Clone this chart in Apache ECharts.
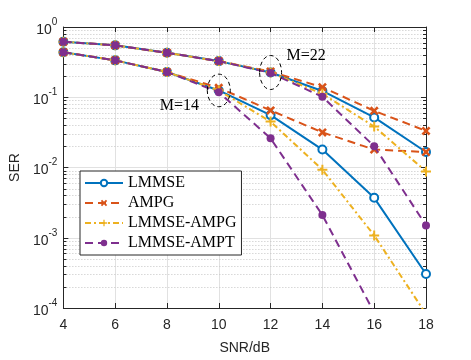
<!DOCTYPE html>
<html><head><meta charset="utf-8">
<script src="https://cdn.jsdelivr.net/npm/echarts@6/dist/echarts.min.js"></script>
<style>html,body{margin:0;padding:0;background:#fff}#c{width:471px;height:360px}</style>
</head><body><div id="c"></div>
<script>
const snr = [4, 6, 8, 10, 12, 14, 16, 18];
const xTicks = [4, 6, 8, 10, 12, 14, 16, 18];
const methodNames = ['LMMSE', 'AMPG', 'LMMSE-AMPG', 'LMMSE-AMPT'];
const lmmse_M14 = [0.437, 0.335, 0.229, 0.125, 0.0557, 0.018, 0.0037, 0.000305];
const lmmse_M22 = [0.617, 0.548, 0.429, 0.327, 0.225, 0.123, 0.0516, 0.0166];
const ampg_M14 = [0.437, 0.335, 0.229, 0.136, 0.065, 0.0316, 0.018, 0.0166];
const ampg_M22 = [0.617, 0.548, 0.429, 0.327, 0.232, 0.139, 0.064, 0.0332];
const lmmseAmpg_M14 = [0.437, 0.335, 0.229, 0.125, 0.045, 0.0093, 0.00108, 0.000082];
const lmmseAmpg_M22 = [0.617, 0.548, 0.429, 0.327, 0.225, 0.112, 0.0383, 0.0088];
const lmmseAmpt_M14 = [0.437, 0.335, 0.229, 0.118, 0.026, 0.0021, 0.000086, null];
const lmmseAmpt_M22 = [0.617, 0.548, 0.429, 0.327, 0.222, 0.1016, 0.0201, 0.0015];
const decadeExponents = [-4, -3, -2, -1];
const minorMultipliers = [2, 3, 4, 5, 6, 7, 8, 9];
const annotations = [
  { label: 'M=22', x: 12, y: 0.225 },
  { label: 'M=14', x: 10, y: 0.125 }
];

const colors = ['#0072BD', '#D95319', '#EDB120', '#7E2F8E'];
const X_PATH = 'path://M0,2 L2,0 L5,3 L8,0 L10,2 L7,5 L10,8 L8,10 L5,7 L2,10 L0,8 L3,5 Z';
const PLUS_PATH = 'path://M4,0 H6 V4 H10 V6 H6 V10 H4 V6 H0 V4 H4 Z';

const minorValues = [];
decadeExponents.forEach(e => minorMultipliers.forEach(m => minorValues.push([snr[0], m * Math.pow(10, e)])));

function pairs(arr) { return snr.map((x, i) => [x, arr[i]]); }

const styles = [
  { lineStyle: { color: colors[0], width: 2, type: 'solid' }, symbol: 'emptyCircle', symbolSize: 8, itemStyle: { color: colors[0], borderColor: colors[0], borderWidth: 2 } },
  { lineStyle: { color: colors[1], width: 2, type: [8, 5] }, symbol: X_PATH, symbolSize: 9, itemStyle: { color: colors[1] } },
  { lineStyle: { color: colors[2], width: 2, type: [6, 3, 2, 3] }, symbol: PLUS_PATH, symbolSize: 10, itemStyle: { color: colors[2] } },
  { lineStyle: { color: colors[3], width: 2, type: [8, 5] }, symbol: 'circle', symbolSize: 8, itemStyle: { color: colors[3] } }
];
const dataSets = [[lmmse_M14, lmmse_M22], [ampg_M14, ampg_M22], [lmmseAmpg_M14, lmmseAmpg_M22], [lmmseAmpt_M14, lmmseAmpt_M22]];

const series = [{
  type: 'custom',
  name: 'minor',
  silent: true,
  z: 0,
  data: minorValues,
  encode: { x: 0, y: 1 },
  renderItem: function (params, api) {
    const cs = params.coordSys;
    const p = api.coord([api.value(0), api.value(1)]);
    const y = Math.round(p[1]) + 0.5;
    return {
      type: 'group',
      children: [
        { type: 'line', shape: { x1: cs.x, y1: y, x2: cs.x + cs.width, y2: y }, style: { stroke: '#c4c4c4', lineWidth: 1, lineDash: [1, 2] } },
        { type: 'line', shape: { x1: cs.x, y1: y, x2: cs.x + 3, y2: y }, style: { stroke: '#262626', lineWidth: 1 } },
        { type: 'line', shape: { x1: cs.x + cs.width - 3, y1: y, x2: cs.x + cs.width, y2: y }, style: { stroke: '#262626', lineWidth: 1 } }
      ]
    };
  }
}];
methodNames.forEach((name, i) => {
  dataSets[i].forEach(arr => {
    series.push(Object.assign({
      type: 'line', name: name, data: pairs(arr), z: 3 + i, clip: true, animation: false,
      showAllSymbol: true, connectNulls: false
    }, styles[i]));
  });
});

const axisLine = { show: true, lineStyle: { color: '#262626', width: 1 } };
const option = {
  animation: false,
  backgroundColor: '#fff',
  grid: { left: 61, right: 45, top: 27, bottom: 47, containLabel: false },
  legend: {
    data: methodNames, orient: 'vertical', left: 80, top: 171,
    backgroundColor: '#fff', borderColor: '#262626', borderWidth: 1, borderRadius: 0,
    padding: [4, 5, 4, 4], itemWidth: 38, itemHeight: 8, itemGap: 4,
    textStyle: { fontFamily: 'Liberation Serif', fontSize: 16, color: '#000', lineHeight: 15 }
  },
  xAxis: [{
    type: 'value', min: 4, max: 18, interval: 2,
    name: 'SNR/dB', nameLocation: 'middle', nameGap: 33,
    nameTextStyle: { fontFamily: 'Liberation Sans', fontSize: 14, color: '#262626' },
    axisLine: axisLine, axisTick: { inside: true, length: 5, lineStyle: { color: '#262626' } },
    axisLabel: { fontFamily: 'Liberation Sans', fontSize: 14, color: '#262626', margin: 10 },
    splitLine: { show: true, lineStyle: { color: '#e1e1e1', width: 1 } }
  }, {
    type: 'value', min: 4, max: 18, interval: 2, position: 'top',
    axisLine: axisLine, axisTick: { inside: true, length: 5, lineStyle: { color: '#262626' } },
    axisLabel: { show: false }, splitLine: { show: false }
  }],
  yAxis: [{
    type: 'log', logBase: 10, min: 0.0001, max: 1,
    name: 'SER', nameLocation: 'middle', nameGap: 37, nameRotate: 90,
    nameTextStyle: { fontFamily: 'Liberation Sans', fontSize: 14, color: '#262626' },
    axisLine: axisLine, axisTick: { inside: true, length: 5, lineStyle: { color: '#262626' } },
    axisLabel: {
      margin: 6,
      formatter: function (v) { return '{b|10}{s|' + Math.round(Math.log10(v)) + '}'; },
      rich: {
        b: { fontFamily: 'Liberation Sans', fontSize: 14, color: '#262626', verticalAlign: 'bottom', lineHeight: 20 },
        s: { fontFamily: 'Liberation Sans', fontSize: 10, color: '#262626', verticalAlign: 'top', lineHeight: 20 }
      }
    },
    splitLine: { show: true, lineStyle: { color: '#e1e1e1', width: 1 } }
  }, {
    type: 'log', logBase: 10, min: 0.0001, max: 1, position: 'right',
    axisLine: axisLine, axisTick: { inside: true, length: 5, lineStyle: { color: '#262626' } },
    axisLabel: { show: false }, splitLine: { show: false }
  }],
  series: series
};

const chart = echarts.init(document.getElementById('c'), null, { renderer: 'canvas' });
chart.setOption(option);

const ellipseSizes = [[11, 17], [11.5, 16.3]];
const textOffsets = [[16, -17], [-59, 15]];
const graphics = [];
annotations.forEach((a, i) => {
  const p = chart.convertToPixel({ gridIndex: 0 }, [a.x, a.y]);
  graphics.push({
    type: 'ellipse', z: 100,
    shape: { cx: p[0], cy: p[1], rx: ellipseSizes[i][0], ry: ellipseSizes[i][1] },
    style: { fill: 'none', stroke: '#000', lineWidth: 1, lineDash: [4, 3] }
  });
  graphics.push({
    type: 'text', z: 100, x: p[0] + textOffsets[i][0], y: p[1] + textOffsets[i][1],
    style: { text: a.label, font: '16px "Liberation Serif"', fill: '#000', verticalAlign: 'middle', align: 'left' }
  });
});
chart.setOption({ graphic: graphics });
</script>
</body></html>
